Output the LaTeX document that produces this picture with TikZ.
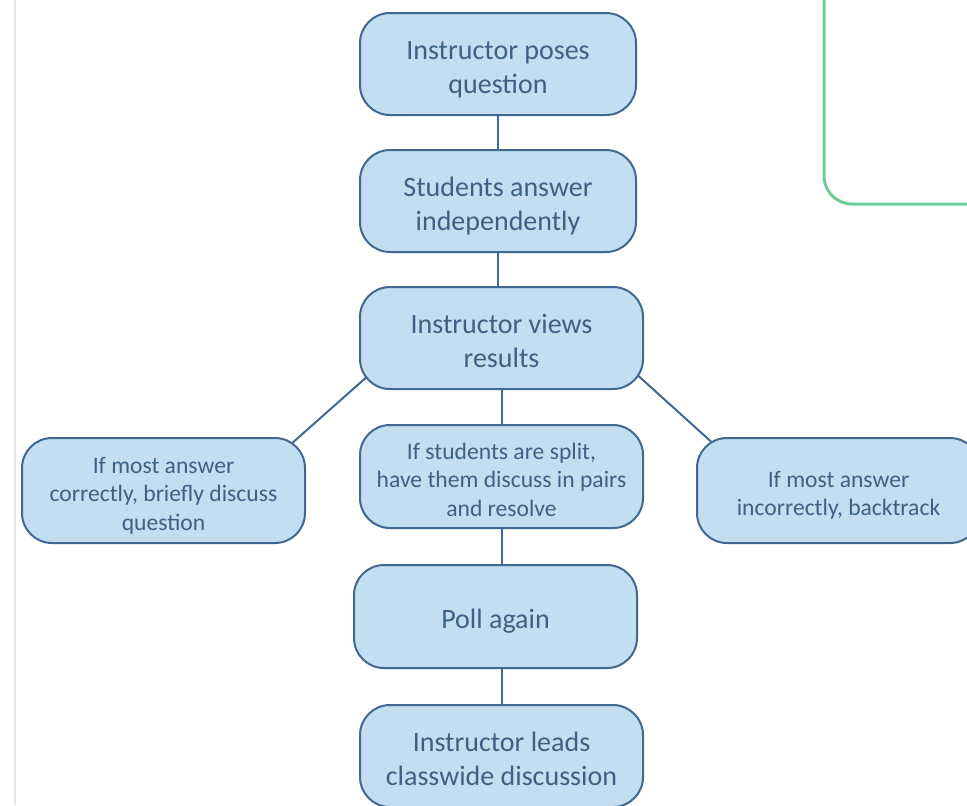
\documentclass[tikz,border=0pt]{standalone}
\usepackage{fontspec}
\setmainfont{Carlito}
\usepackage{tikz}
\usetikzlibrary{positioning, backgrounds}
\definecolor{boxfill}{RGB}{194,222,240}
\definecolor{boxline}{RGB}{65,104,145}
\definecolor{boxtext}{RGB}{62,96,134}
\definecolor{framegreen}{RGB}{110,204,150}
\definecolor{rulegray}{RGB}{230,230,230}
\tikzstyle{blue_box} = [
    rectangle,
    rounded corners=15pt,
    draw=boxline,
    line width=1pt,
    fill=boxfill,
    text=boxtext,
    align=center,
    inner sep=0pt,
    minimum width=141.5pt,
    minimum height=51pt,
    text height=29.5pt, % text sits a bit low in the box
    text depth=0pt,
    font=\fontsize{14pt}{17pt}\selectfont
]
\tikzstyle{choice_box} = [
    blue_box,
    minimum height=52.5pt,
    text height=39.5pt,
    font=\fontsize{11.8pt}{14.25pt}\selectfont % smaller text in the three choices
]

\begin{document}
\begin{tikzpicture}[
    link/.style={
        draw=boxline,
        line width=1pt
    }
]
\useasboundingbox (0,0) rectangle (483.5pt,-402.5pt);
\draw [rulegray, line width=1pt] (7.5pt,0) -- (7.5pt,-402.5pt);
\draw [framegreen, line width=1.5pt, rounded corners=14pt] (412pt,10pt) -- (412pt,-102pt) -- (495pt,-102pt);

\node [blue_box, minimum width=138pt] (poses) at (249pt,-32pt) {Instructor poses\\question};
\node [blue_box, minimum width=138pt, below=16.5pt of poses] (students) {Students answer\\independently};
\node [blue_box, below=16.5pt of students, xshift=1.75pt] (views) {Instructor views\\results};
\node [choice_box, minimum height=51.5pt, below=17pt of views] (split) {If students are split,\\have them discuss in pairs\\and resolve};
\node [choice_box, left=26.5pt of split, yshift=-7pt] (correct) {If most answer\\correctly, briefly discuss\\question};
\node [choice_box, text height=25pt, right=26pt of split, yshift=-7pt] (incorrect) {If most answer\\incorrectly, backtrack};
\node [blue_box, text height=12pt, minimum height=51.5pt, below=17.5pt of split, xshift=-3pt] (poll) {Poll again};
\node [blue_box, below=17.5pt of poll, xshift=3pt] (leads) {Instructor leads\\classwide discussion};

\begin{scope}[on background layer]
\draw [link] (poses) -- (students);
\draw [link] (students) -- (students |- views);
\draw [link] (views) -- (split);
\draw [link] (split) -- (split |- poll);
\draw [link] (leads |- poll) -- (leads);
\draw [link, shorten <=-14pt, shorten >=-14pt] ([xshift=-3.5pt]views.south west) -- ([xshift=-3.5pt]correct.north east);
\draw [link, shorten <=-14pt, shorten >=-14pt] ([xshift=5pt]views.south east) -- ([xshift=5pt]incorrect.north west);
\end{scope}
\end{tikzpicture}
\end{document}
